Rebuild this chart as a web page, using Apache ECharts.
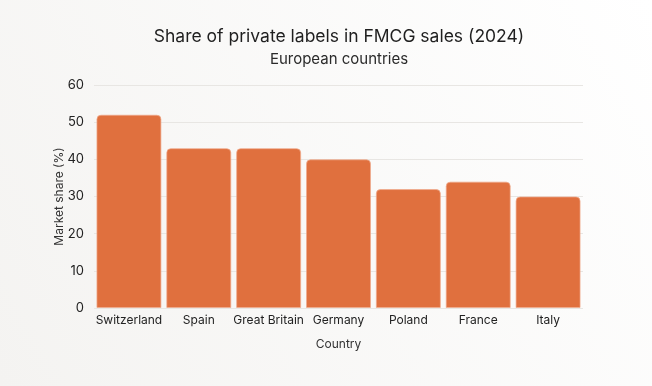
<!DOCTYPE html>
<html><head><meta charset="utf-8">
<script src="https://cdn.jsdelivr.net/npm/echarts@6/dist/echarts.min.js"></script>
<style>html,body{margin:0;padding:0;}#c{width:652px;height:386px;}</style>
</head><body><div id="c"></div>
<script>
const categories = ["Switzerland","Spain","Great Britain","Germany","Poland","France","Italy"];
const shareValues = [52,43,43,40,32,34,30];
const yTicks = [0,10,20,30,40,50,60];

const chart = echarts.init(document.getElementById('c'));
const font = 'Inter, Lato, sans-serif';
chart.setOption({
  backgroundColor: {type:'linear',x:1,y:0,x2:0,y2:1,colorStops:[{offset:0,color:'#ffffff'},{offset:1,color:'#f4f3f1'}]},
  title: {
    text: 'Share of private labels in FMCG sales (2024)',
    subtext: 'European countries',
    left: 334, textAlign: 'center', top: 23,
    textStyle: {fontFamily: font, fontSize: 17.5, fontWeight: 'normal', color: '#1f1f1f'},
    subtextStyle: {fontFamily: font, fontSize: 15, color: '#2a2a2a'},
    itemGap: 6
  },
  grid: {left: 94, right: 69, top: 85, bottom: 78},
  xAxis: {
    type: 'category', data: categories,
    name: 'Country', nameLocation: 'middle', nameGap: 30,
    nameTextStyle: {fontFamily: font, fontSize: 12, color: '#333'},
    axisLine: {show: false}, axisTick: {show: false},
    axisLabel: {fontFamily: font, fontSize: 12, color: '#222', margin: 6, interval: 0}
  },
  yAxis: {
    type: 'value', min: 0, max: 60, interval: 10,
    name: 'Market share (%)', nameLocation: 'middle', nameGap: 29, nameMoveOverlap: false,
    nameTextStyle: {fontFamily: font, fontSize: 12, color: '#333'},
    axisLine: {show: false}, axisTick: {show: false},
    axisLabel: {fontFamily: font, fontSize: 13, color: '#222', margin: 10,
      formatter: v => yTicks.includes(v) ? String(v) : ''},
    splitLine: {lineStyle: {color: '#e8e6e3', width: 1}}
  },
  series: [{
    type: 'bar', data: shareValues, barCategoryGap: '7%',
    itemStyle: {color: '#e0703e', borderRadius: [4,4,0,0], borderColor: 'rgba(240,170,140,0.7)', borderWidth: 1}
  }]
});
</script></body></html>
